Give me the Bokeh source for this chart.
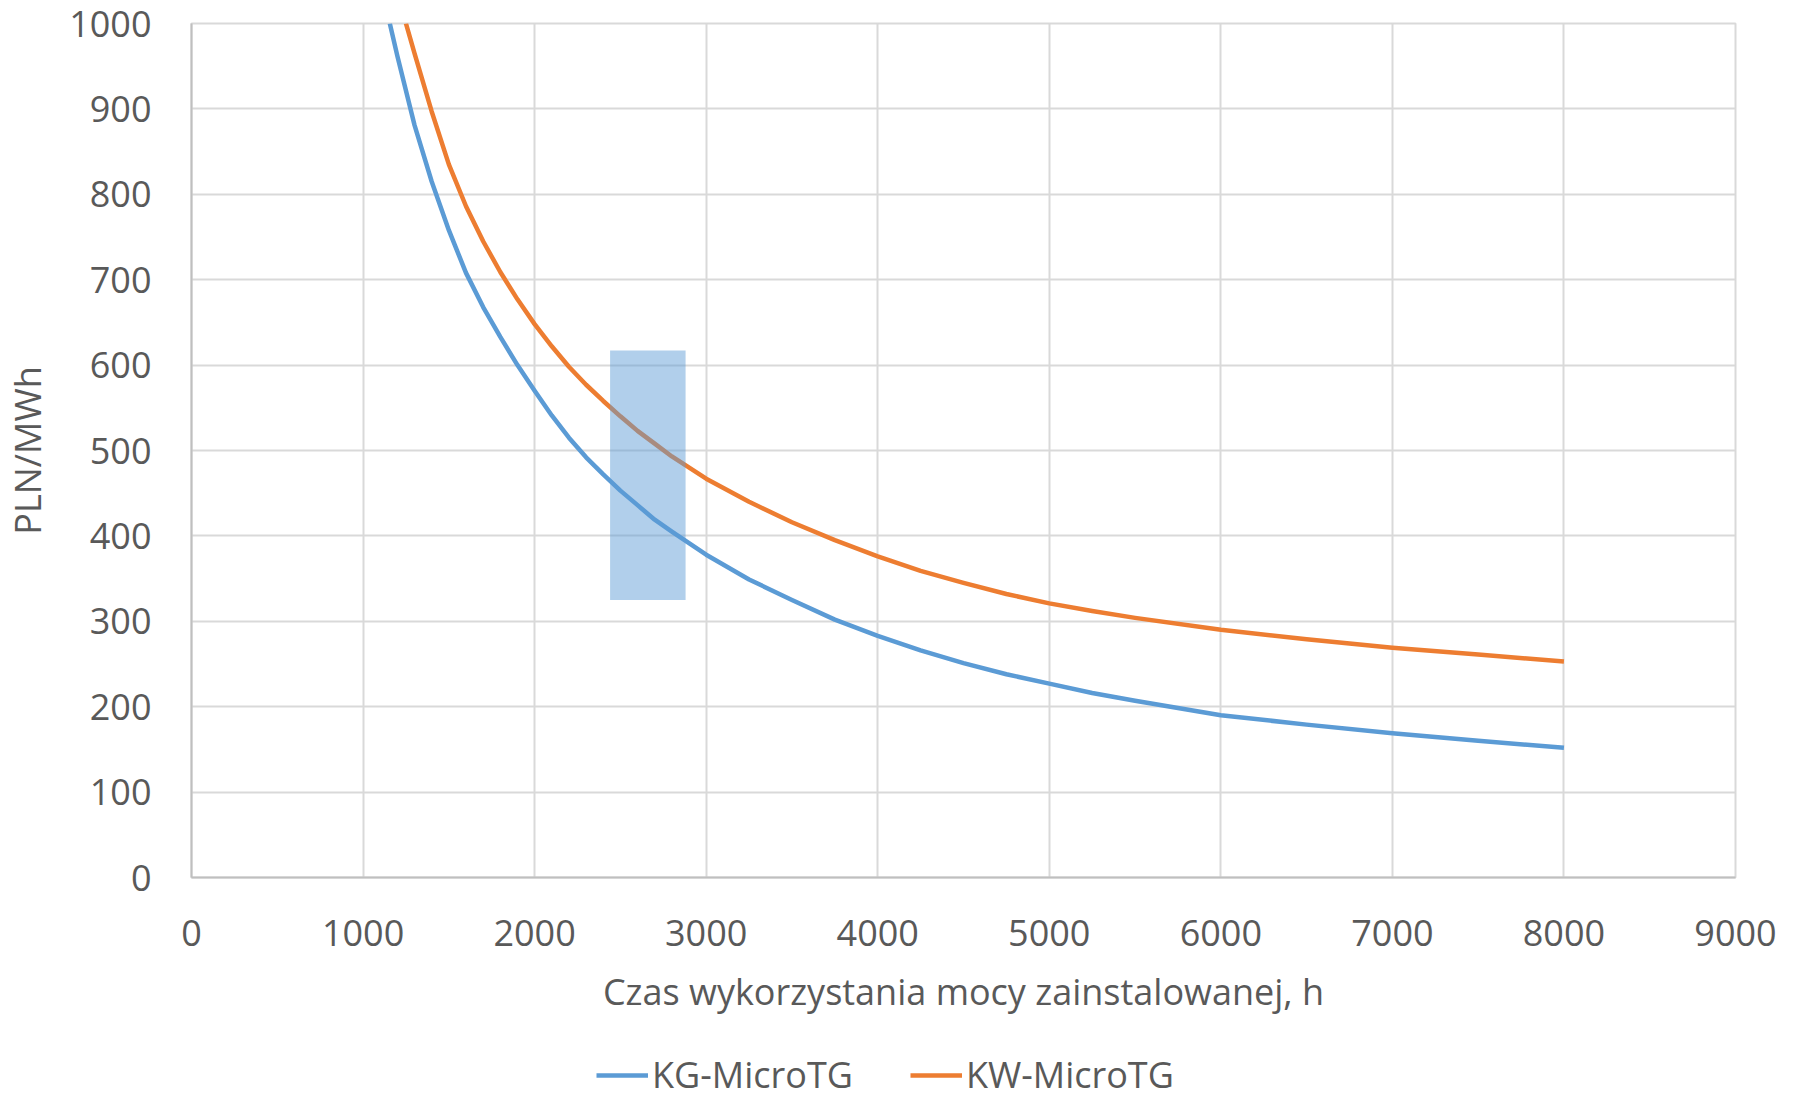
from bokeh.plotting import figure
from bokeh.layouts import column
from bokeh.models import Legend, LegendItem, FixedTicker, Range1d
from bokeh.embed import file_html
from bokeh.resources import INLINE

# Data
hours_kg = [1156, 1200, 1300, 1400, 1500, 1600, 1700, 1800, 1900, 2000, 2100, 2200, 2300, 2400,
            2500, 2600, 2700, 2800, 3000, 3250, 3500, 3750, 4000, 4250, 4500, 4750, 5000, 5250,
            5500, 6000, 6500, 7000, 7500, 8000]
cost_kg = [1000, 962, 881, 815, 758, 708, 668, 633, 600, 570, 541, 515, 492, 472,
           453, 436, 419, 405, 378, 349, 325, 302, 283, 266, 251, 238, 227, 216,
           207, 190, 179, 169, 160, 152]

hours_kw = [1250, 1300, 1400, 1500, 1600, 1700, 1800, 1900, 2000, 2100, 2200, 2300, 2400,
            2500, 2600, 2700, 2800, 3000, 3250, 3500, 3750, 4000, 4250, 4500, 4750, 5000, 5250,
            5500, 6000, 6500, 7000, 7500, 8000]
cost_kw = [1000, 965, 897, 835, 786, 745, 709, 677, 648, 622, 598, 577, 558,
           540, 523, 508, 493, 467, 440, 416, 395, 376, 359, 345, 332, 321, 312,
           304, 290, 279, 269, 261, 253]

band_hours = [2440, 2880]
band_cost = [325, 617]

x_ticks = [0, 1000, 2000, 3000, 4000, 5000, 6000, 7000, 8000, 9000]
y_ticks = [0, 100, 200, 300, 400, 500, 600, 700, 800, 900, 1000]

series_names = ["KG-MicroTG", "KW-MicroTG"]
series_colors = ["#5B9BD5", "#ED7D31"]
x_title = "Czas wykorzystania mocy zainstalowanej, h"
y_title = "PLN/MWh"

FONT = "Open Sans"
TXT = "#595959"
GRID = "#D9D9D9"
NAN = float("nan")

p = figure(frame_width=1544, frame_height=854,
           x_range=Range1d(0, 9000), y_range=Range1d(0, 1000),
           output_backend="svg", toolbar_location=None,
           min_border_left=189, min_border_right=60, min_border_top=23, min_border_bottom=163)

p.background_fill_color = "white"
p.border_fill_color = "white"
p.outline_line_color = GRID
p.outline_line_width = 2

for ax in (p.xaxis[0], p.yaxis[0]):
    ax.major_label_text_font = FONT
    ax.major_label_text_font_size = "36px"
    ax.major_label_text_color = TXT
    ax.axis_label_text_font = FONT
    ax.axis_label_text_font_size = "36px"
    ax.axis_label_text_color = TXT
    ax.axis_label_text_font_style = "normal"
    ax.major_tick_line_color = None
    ax.minor_tick_line_color = None
    ax.axis_line_color = "#BFBFBF"
    ax.axis_line_width = 2

p.xaxis[0].ticker = FixedTicker(ticks=x_ticks)
p.yaxis[0].ticker = FixedTicker(ticks=y_ticks)
p.xaxis[0].axis_label = x_title
p.yaxis[0].axis_label = y_title
p.xaxis[0].major_label_standoff = 36
p.yaxis[0].major_label_standoff = 34
p.xaxis[0].axis_label_standoff = 18
p.yaxis[0].axis_label_standoff = 14

p.xgrid.grid_line_color = GRID
p.ygrid.grid_line_color = GRID
p.xgrid.grid_line_width = 2
p.ygrid.grid_line_width = 2

p.line(hours_kg, cost_kg, line_color=series_colors[0], line_width=4.5, line_join="round")
p.line(hours_kw, cost_kw, line_color=series_colors[1], line_width=4.5, line_join="round")

p.quad(left=[band_hours[0]], right=[band_hours[1]], bottom=[band_cost[0]], top=[band_cost[1]],
       fill_color="#5B9BD5", fill_alpha=0.48, line_color=None)

# Legend strip below the chart (separate figure so the legend is not clipped)
lf = figure(frame_width=1793, frame_height=59, x_range=Range1d(0, 1), y_range=Range1d(0, 1),
            output_backend="svg", toolbar_location=None,
            x_axis_type=None, y_axis_type=None, min_border=0)
lf.grid.visible = False
lf.outline_line_color = None
lf.background_fill_color = "white"
lf.border_fill_color = "white"
lr_kg = lf.line([NAN], [NAN], line_color=series_colors[0], line_width=4.5)
lr_kw = lf.line([NAN], [NAN], line_color=series_colors[1], line_width=4.5)

legend = Legend(items=[LegendItem(label=series_names[0], renderers=[lr_kg]),
                       LegendItem(label=series_names[1], renderers=[lr_kw])],
                orientation="horizontal", location=(596, 0))
legend.label_text_font = FONT
legend.label_text_font_size = "36px"
legend.label_text_color = TXT
legend.glyph_width = 52
legend.glyph_height = 30
legend.label_standoff = 4
legend.spacing = 57
legend.border_line_color = None
legend.background_fill_alpha = 0
legend.padding = 0
legend.margin = 0
lf.add_layout(legend, "center")

layout = column(p, lf, spacing=0)
open("out.html", "w").write(file_html(layout, INLINE))
